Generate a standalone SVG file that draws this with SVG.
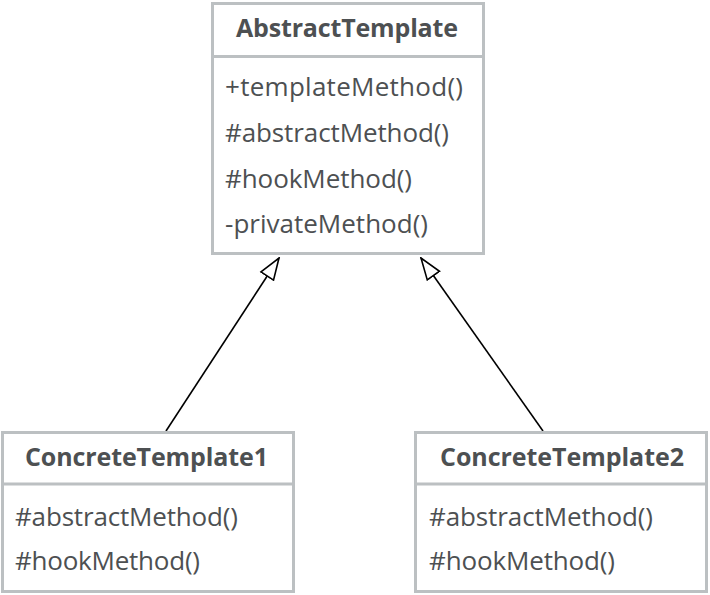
<svg xmlns="http://www.w3.org/2000/svg" width="710" height="595" viewBox="0 0 710 595">
<style>
.box{fill:#fff;stroke:#bcc0c2;stroke-width:3}
.div{stroke:#bcc0c2;stroke-width:3}
.title{font-family:"Open Sans",Lato,sans-serif;font-weight:bold;font-size:25px;fill:#4d5052}
.m{font-family:"Open Sans",Lato,sans-serif;font-size:26px;fill:#4d5052}
.conn{stroke:#000;stroke-width:1.6;fill:none}
</style>
<defs>
<marker id="tri" viewBox="0 0 24 18" refX="22.5" refY="9" markerWidth="24" markerHeight="18" markerUnits="userSpaceOnUse" orient="auto">
<path d="M1,1.5 L22.5,9 L1,16.5 Z" fill="#fff" stroke="#000" stroke-width="1.6"/>
</marker>
</defs>
<g id="connectors">
<line class="conn" x1="166" y1="431" x2="279" y2="258" marker-end="url(#tri)"/>
<line class="conn" x1="543" y1="431" x2="421" y2="258" marker-end="url(#tri)"/>
</g>
<g id="AbstractTemplate">
<rect class="box" x="212.5" y="3.5" width="271" height="250"/>
<line class="div" x1="212.5" y1="56.5" x2="483.5" y2="56.5"/>
<text class="title" x="236" y="37" textLength="222">AbstractTemplate</text>
<text class="m" x="225" y="96" textLength="238">+templateMethod()</text>
<text class="m" x="225" y="142" textLength="224">#abstractMethod()</text>
<text class="m" x="225" y="188" textLength="187">#hookMethod()</text>
<text class="m" x="225" y="233" textLength="203">-privateMethod()</text>
</g>
<g id="ConcreteTemplate1">
<rect class="box" x="2.5" y="432.5" width="291" height="159"/>
<line class="div" x1="2.5" y1="484" x2="293.5" y2="484"/>
<text class="title" x="25" y="466" textLength="243">ConcreteTemplate1</text>
<text class="m" x="15" y="526" textLength="223">#abstractMethod()</text>
<text class="m" x="15" y="570" textLength="185">#hookMethod()</text>
</g>
<g id="ConcreteTemplate2">
<rect class="box" x="415.5" y="432.5" width="291" height="159"/>
<line class="div" x1="415.5" y1="484" x2="706.5" y2="484"/>
<text class="title" x="440" y="466" textLength="244">ConcreteTemplate2</text>
<text class="m" x="429" y="526" textLength="224">#abstractMethod()</text>
<text class="m" x="429" y="570" textLength="186">#hookMethod()</text>
</g>
</svg>
